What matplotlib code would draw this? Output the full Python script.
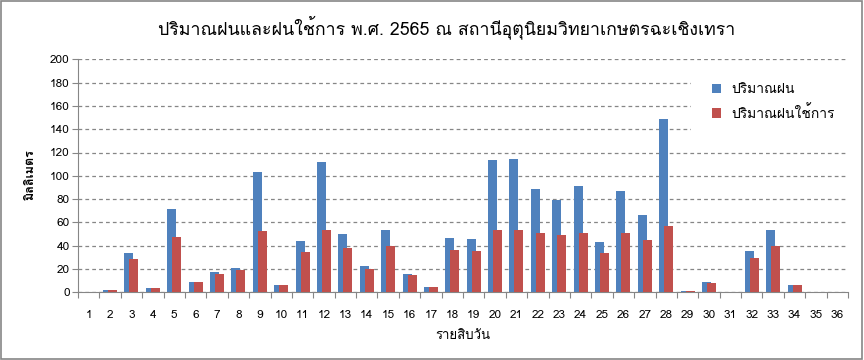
# rainfall per ten-day period, Chachoengsao agromet station 2565
import matplotlib
matplotlib.use('Agg')
import matplotlib.pyplot as plt
import numpy as np
from matplotlib import font_manager
from matplotlib.ft2font import FT2Font
from matplotlib.patches import Rectangle

# data
periods = [str(i) for i in range(1, 37)]
rain = [0, 2, 33.8, 3.7, 71.2, 8.6, 17.5, 20.6, 103, 6.3,
        44.1, 111.9, 50, 22.6, 53.5, 15.7, 4.6, 46.6, 45.8, 113.6,
        114.4, 88.7, 79.2, 91.3, 43.2, 87, 66.4, 148.8, 1.1, 8.9,
        0, 35.5, 53.5, 6.3, 0, 0]
eff_rain = [0, 2, 28.6, 3.7, 47.2, 8.6, 15.7, 19.2, 52.6, 6.3,
            34.6, 53.5, 38, 20, 39.8, 14.9, 4.6, 36.3, 35.5, 53.5,
            53.5, 50.9, 49.2, 50.9, 33.8, 50.9, 44.9, 56.9, 1.1, 8,
            0, 29.5, 39.8, 6.3, 0, 0]
series_names = ['ปริมาณฝน', 'ปริมาณฝนใช้การ']
title = 'ปริมาณฝนและฝนใช้การ พ.ศ. 2565 ณ สถานีอุตุนิยมวิทยาเกษตรฉะเชิงเทรา'
xlabel = 'รายสิบวัน'
ylabel = 'มิลลิเมตร'

# find any installed font that has thai glyphs
thai = []
for f in font_manager.fontManager.ttflist:
    try:
        if 0x0E01 in FT2Font(f.fname).get_charmap() and f.name not in thai:
            thai.append(f.name)
    except Exception:
        pass
plt.rcParams['font.family'] = thai + ['DejaVu Sans']

fig = plt.figure(figsize=(8.64, 3.6), dpi=100)
ax = fig.add_axes([78 / 864, 1 - 292.3 / 360, 770 / 864, 233 / 360])

x = np.arange(1, 37)
w = 0.42
ax.bar(x - 0.117, rain, w, color='#4F81BD', label=series_names[0], zorder=2)
ax.bar(x + 0.117, eff_rain, w, color='#C0504D', label=series_names[1], zorder=3)

ax.set_xlim(0.5, 36.5)
ax.set_ylim(0, 200)
ax.set_yticks(np.arange(0, 201, 20))
ax.yaxis.grid(True, color='#868686', linestyle=(0, (3, 2.5)), linewidth=0.9, zorder=0)

# ticks between categories, labels at the centres
ax.set_xticks(np.arange(0.5, 37, 1))
ax.set_xticklabels([])
ax.set_xticks(x, minor=True)
ax.set_xticklabels(periods, minor=True)
ax.tick_params(axis='x', which='major', length=4, color='#868686', direction='out')
ax.tick_params(axis='x', which='minor', length=0, pad=13, labelsize=8.5)
ax.tick_params(axis='y', length=4, color='#868686', labelsize=8.5, pad=2)

for s in ['top', 'right']:
    ax.spines[s].set_visible(False)
for s in ['left', 'bottom']:
    ax.spines[s].set_color('#868686')
ax.set_axisbelow(True)

leg = ax.legend(loc='upper left', bbox_to_anchor=(0.796, 0.985), frameon=True,
                fontsize=10, handlelength=0.7, handleheight=0.7, borderaxespad=0,
                borderpad=1.5, labelspacing=0.6, handletextpad=0.7)
leg.get_frame().set_facecolor('white')
leg.get_frame().set_edgecolor('none')
leg.get_frame().set_alpha(1)

fig.text(447 / 864, 1 - 27 / 360, title, ha='center', va='center', fontsize=12.8)
fig.text(30 / 864, 1 - 175 / 360, ylabel, ha='center', va='center', rotation=90,
         fontsize=9, fontweight='bold')
fig.text(463 / 864, 1 - 336 / 360, xlabel, ha='center', va='center', fontsize=9.5)

# grey chart-area border
fig.patches.append(Rectangle((0.001, 0.002), 0.997, 0.995, transform=fig.transFigure,
                             fill=False, edgecolor='#868686', linewidth=1.2))

fig.savefig('out.png', dpi=100)
